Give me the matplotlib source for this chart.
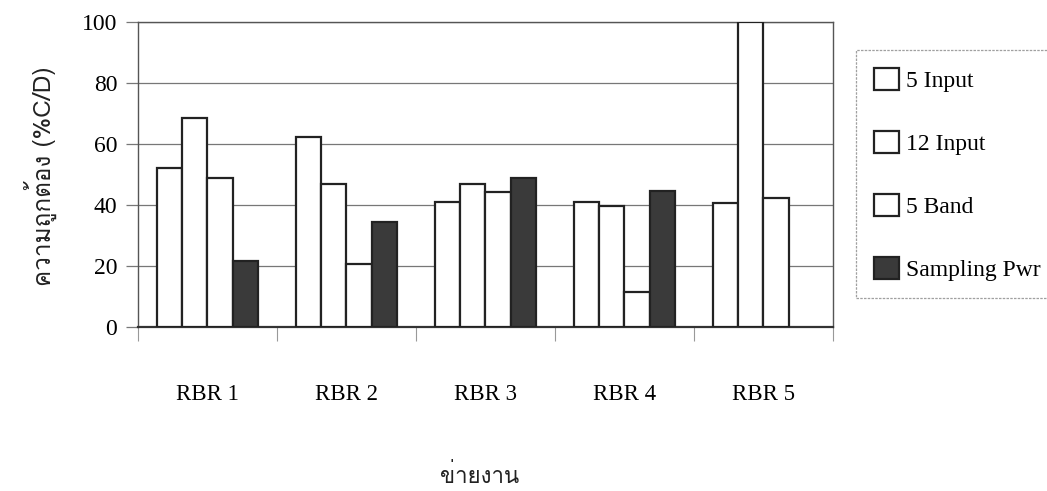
import matplotlib
matplotlib.use("Agg")
import matplotlib.pyplot as plt
import matplotlib.font_manager as fm
from matplotlib.ft2font import FT2Font
import numpy as np

networks = ["RBR 1", "RBR 2", "RBR 3", "RBR 4", "RBR 5"]
series_names = ["5 Input", "12 Input", "5 Band", "Sampling Pwr"]
input5 = [52.0, 62.3, 41.0, 41.1, 40.7]
input12 = [68.4, 46.9, 46.8, 39.6, 100.0]
band5 = [49.0, 20.7, 44.1, 11.5, 42.3]
sampling = [21.6, 34.3, 48.8, 44.6, np.nan]  # no bar for RBR 5


def find_thai_font():
    # look for any installed font that has Thai glyphs
    for f in fm.fontManager.ttflist:
        try:
            if 0x0E02 in FT2Font(f.fname).get_charmap():
                return f.name
        except Exception:
            pass
    return "DejaVu Sans"


thai = find_thai_font()
serif = "Liberation Serif"

fig = plt.figure(figsize=(10.47, 4.91), dpi=100)
ax = fig.add_axes([138 / 1047, 1 - 327 / 491, 695 / 1047, 305 / 491])

x = np.arange(len(networks))
w = 0.183
data = [input5, input12, band5, sampling]
faces = ["white", "white", "white", "#3a3a3a"]
for i, (vals, fc, name) in enumerate(zip(data, faces, series_names)):
    ax.bar(x + (i - 1.5) * w, vals, w, facecolor=fc, edgecolor="#222222",
           linewidth=1.6, label=name, zorder=3)

ax.set_xlim(-0.5, 4.5)
ax.set_ylim(0, 100)
ax.set_yticks([0, 20, 40, 60, 80, 100])
ax.set_yticklabels(["0", "20", "40", "60", "80", "100"], fontfamily=serif, fontsize=17)
ax.yaxis.grid(True, color="#777777", linewidth=0.9, zorder=0)
ax.tick_params(axis="y", length=9, width=0.9, color="#777777", pad=6)

ax.set_xticks(x)
ax.set_xticklabels(networks, fontfamily=serif, fontsize=16.5)
ax.set_xticks(np.arange(-0.5, 5, 1), minor=True)
ax.tick_params(axis="x", which="major", length=0, pad=41)
ax.tick_params(axis="x", which="minor", length=10, width=0.8, color="#999999")

for s in ["left", "right", "top"]:
    ax.spines[s].set_color("#555555")
    ax.spines[s].set_linewidth(1.0)
ax.spines["bottom"].set_color("#333333")
ax.spines["bottom"].set_linewidth(1.6)

leg = fig.legend(loc="upper left", bbox_to_anchor=(856 / 1047, 1 - 50 / 491),
                 borderaxespad=0, frameon=True, fancybox=False,
                 prop={"family": serif, "size": 17}, handlelength=1.05,
                 handleheight=1.05, handletextpad=0.3, labelspacing=1.65,
                 borderpad=0.75)
leg.get_frame().set_edgecolor("#888888")
leg.get_frame().set_linestyle((0, (2, 1)))
leg.get_frame().set_linewidth(0.9)

fig.text(40 / 1047, 1 - 176 / 491, "ความถูกต้อง (%C/D)", rotation=90,
         ha="center", va="center", fontsize=17.5, family=[thai, "DejaVu Sans"],
         color="#222222")
fig.text(480 / 1047, 1 - 476 / 491, "ข่ายงาน", ha="center", va="center",
         fontsize=16, family=[thai, "DejaVu Sans"], color="#222222")

fig.savefig("out.png", dpi=100)
